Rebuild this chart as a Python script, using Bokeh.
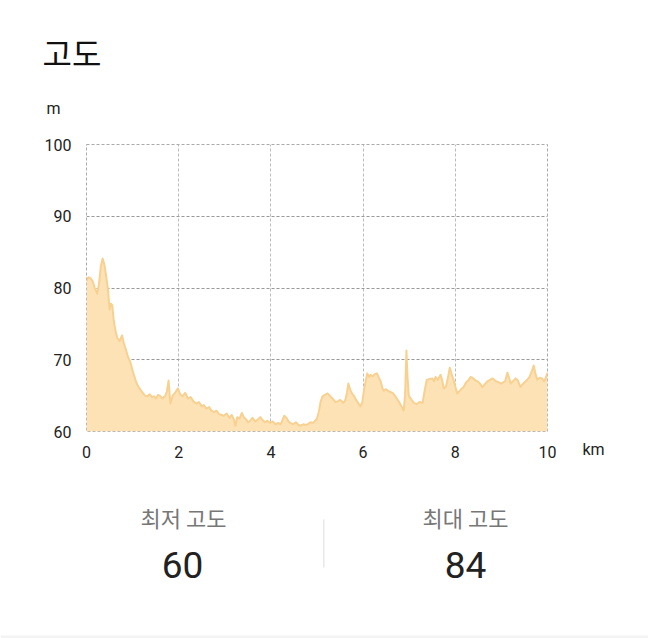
from bokeh.plotting import figure
from bokeh.layouts import column, row
from bokeh.models import Range1d, FixedTicker, BoxAnnotation
from bokeh.core.properties import value
from bokeh.embed import file_html
from bokeh.resources import INLINE

title_text = "고도"
y_unit = "m"
x_unit = "km"
stat_labels = ["최저 고도", "최대 고도"]
stat_values = ["60", "84"]
x_ticks = [0, 2, 4, 6, 8, 10]
y_ticks = [60, 70, 80, 90, 100]

dist = [0.00, 0.04, 0.08, 0.13, 0.18, 0.23, 0.27, 0.31, 0.35, 0.39, 0.43, 0.47, 0.50, 0.53, 0.56, 0.59,
        0.63, 0.67, 0.72, 0.77, 0.81, 0.85, 0.90, 0.95, 1.00, 1.06, 1.11, 1.17, 1.22, 1.27, 1.32, 1.37,
        1.42, 1.46, 1.51, 1.55, 1.59, 1.64, 1.70, 1.74, 1.78, 1.82, 1.87, 1.93, 1.98, 2.03, 2.08, 2.14,
        2.20, 2.26, 2.32, 2.38, 2.44, 2.50, 2.54, 2.60, 2.66, 2.71, 2.76, 2.82, 2.88, 2.93, 2.98, 3.04,
        3.10, 3.15, 3.20, 3.23, 3.27, 3.32, 3.37, 3.41, 3.46, 3.50, 3.55, 3.60, 3.66, 3.72, 3.77, 3.82,
        3.87, 3.92, 3.98, 4.04, 4.10, 4.16, 4.21, 4.25, 4.29, 4.34, 4.38, 4.42, 4.48, 4.54, 4.60, 4.64,
        4.70, 4.76, 4.82, 4.86, 4.92, 4.97, 5.00, 5.04, 5.08, 5.12, 5.17, 5.23, 5.29, 5.35, 5.40, 5.45,
        5.50, 5.54, 5.57, 5.61, 5.65, 5.68, 5.72, 5.77, 5.81, 5.84, 5.89, 5.94, 5.98, 6.02, 6.06, 6.09,
        6.13, 6.16, 6.21, 6.26, 6.30, 6.34, 6.38, 6.42, 6.45, 6.50, 6.55, 6.60, 6.65, 6.70, 6.74, 6.79,
        6.84, 6.88, 6.91, 6.94, 6.96, 6.99, 7.04, 7.10, 7.16, 7.22, 7.29, 7.33, 7.38, 7.43, 7.50, 7.54,
        7.57, 7.62, 7.68, 7.72, 7.75, 7.80, 7.85, 7.88, 7.92, 7.97, 8.04, 8.10, 8.14, 8.18, 8.23, 8.29,
        8.33, 8.37, 8.42, 8.48, 8.53, 8.59, 8.64, 8.70, 8.75, 8.81, 8.88, 8.93, 8.98, 9.03, 9.08, 9.13,
        9.17, 9.20, 9.25, 9.31, 9.36, 9.41, 9.46, 9.51, 9.56, 9.61, 9.66, 9.70, 9.74, 9.78, 9.83, 9.88,
        9.93, 9.97, 10.00]

elev = [81.0, 81.5, 81.4, 81.0, 80.0, 79.2, 80.5, 83.0, 84.1, 83.2, 81.5, 79.5, 77.0, 77.8, 77.6, 75.5,
        74.0, 73.0, 72.6, 73.4, 72.3, 71.5, 70.4, 69.7, 68.5, 67.2, 66.4, 65.8, 65.4, 65.0, 64.9, 65.2,
        64.8, 64.9, 64.6, 65.1, 65.0, 64.6, 64.9, 65.5, 67.1, 63.9, 65.0, 65.5, 66.0, 65.2, 64.9, 65.4,
        64.6, 64.8, 64.2, 63.9, 64.1, 63.5, 63.7, 63.2, 63.4, 62.9, 62.7, 62.9, 62.4, 62.3, 62.2, 62.5,
        61.9, 62.3, 61.6, 60.8, 62.0, 61.8, 62.6, 62.0, 61.7, 61.3, 61.5, 61.9, 61.4, 61.7, 62.0, 61.6,
        61.3, 61.5, 61.2, 61.4, 61.0, 61.2, 61.0, 61.6, 62.2, 61.9, 61.4, 61.2, 61.0, 61.3, 60.9, 60.8,
        61.0, 60.9, 61.1, 61.3, 61.2, 61.6, 61.8, 62.8, 64.2, 64.9, 65.1, 65.3, 64.9, 64.5, 64.1, 64.2,
        64.4, 64.2, 64.0, 64.3, 65.4, 66.7, 65.8, 65.2, 64.9, 64.5, 64.0, 63.5, 64.0, 65.8, 67.2, 68.1,
        67.6, 67.9, 67.7, 68.0, 68.1, 67.5, 67.0, 66.0, 65.7, 65.9, 65.6, 65.5, 65.3, 64.9, 64.5, 64.0,
        63.4, 62.9, 65.0, 71.3, 68.0, 65.0, 64.5, 64.0, 63.8, 64.1, 64.0, 65.5, 67.2, 67.3, 67.4, 67.0,
        67.6, 67.2, 67.9, 67.0, 66.0, 66.3, 67.8, 68.9, 68.0, 67.0, 65.3, 65.7, 66.0, 66.2, 66.8, 67.2,
        67.6, 67.5, 67.2, 67.0, 66.7, 66.2, 66.6, 67.0, 67.2, 67.4, 67.0, 66.9, 66.7, 66.8, 67.0, 68.2,
        67.4, 66.7, 67.0, 67.4, 67.1, 66.2, 66.6, 66.9, 67.2, 67.6, 68.4, 69.2, 68.0, 67.2, 67.5, 67.4,
        67.0, 67.6, 68.2]

KR = "Noto Sans CJK KR"
NUM = "Roboto"


def blank(w, h):
    """A figure whose frame fills the whole canvas, with y counted downward in pixels."""
    f = figure(width=w, height=h, x_range=Range1d(0, w), y_range=Range1d(h, 0),
               x_axis_type=None, y_axis_type=None, min_border=0,
               toolbar_location=None, output_backend="svg")
    f.grid.visible = False
    f.outline_line_color = None
    f.background_fill_color = "white"
    f.border_fill_color = "white"
    try:
        f.frame_align = False
    except AttributeError:
        pass
    return f


def txt(f, x, y, s, size, color, font, align="left"):
    f.text(x=[x], y=[y], text=[s], text_font=value(font), text_font_size=size,
           text_color=color, text_align=align, text_baseline="middle")


# header
head = blank(648, 136)
txt(head, 42, 51, title_text, "32px", "#111111", KR)
txt(head, 46, 108, y_unit, "16px", "#222222", NUM)

# chart
p = figure(width=570, height=330, x_range=Range1d(0, 10), y_range=Range1d(60, 100),
           min_border_left=86, min_border_right=23, min_border_top=8, min_border_bottom=35,
           toolbar_location=None, output_backend="svg")
p.background_fill_color = "white"
p.border_fill_color = "white"
p.outline_line_color = "#aaaaaa"
p.outline_line_dash = "3 2"

p.varea(x=dist, y1=[y_ticks[0]] * len(dist), y2=elev, fill_color="#FDE2B6", fill_alpha=1.0)
p.line(x=dist, y=elev, line_color="#F8D191", line_width=2, line_join="round")

for ax in (p.xaxis[0], p.yaxis[0]):
    ax.axis_line_color = None
    ax.major_tick_line_color = None
    ax.minor_tick_line_color = None
    ax.major_label_text_font = NUM
    ax.major_label_text_font_size = "16px"
    ax.major_label_text_color = "#222222"
p.xaxis[0].ticker = FixedTicker(ticks=x_ticks)
p.yaxis[0].ticker = FixedTicker(ticks=y_ticks)
p.xaxis[0].major_label_standoff = 8
p.yaxis[0].major_label_standoff = 9

p.xgrid.ticker = FixedTicker(ticks=x_ticks)
p.ygrid.ticker = FixedTicker(ticks=y_ticks)
p.xgrid.grid_line_color = "#bbbbbb"
p.xgrid.grid_line_dash = "3 2"
p.ygrid.grid_line_color = "#999999"
p.ygrid.grid_line_dash = "3 2"

# x unit to the right of the chart
unit = blank(78, 330)
txt(unit, 12, 313, x_unit, "16px", "#222222", NUM)

# footer with the summary values
foot = blank(648, 172)
txt(foot, 183, 50, stat_labels[0], "22px", "#777777", KR, "center")
txt(foot, 465, 50, stat_labels[1], "22px", "#777777", KR, "center")
txt(foot, 182, 98, stat_values[0], "37px", "#222222", NUM, "center")
txt(foot, 465, 98, stat_values[1], "37px", "#222222", NUM, "center")
foot.add_layout(BoxAnnotation(left=322.5, right=324, top=53, bottom=101,
                              fill_color="#e8e8e8", fill_alpha=1.0, line_color=None))
foot.add_layout(BoxAnnotation(left=0, right=648, top=169, bottom=172,
                              fill_color="#f3f3f3", fill_alpha=1.0, line_color=None))

layout = column(head, row(p, unit), foot)
open("out.html", "w").write(file_html(layout, INLINE))
